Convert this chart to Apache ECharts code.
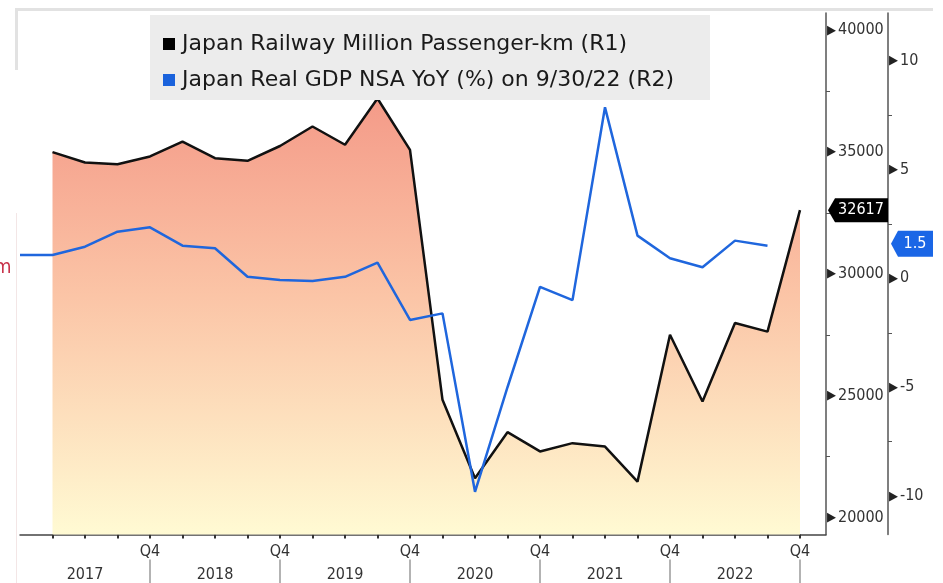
<!DOCTYPE html>
<html><head><meta charset="utf-8">
<script src="https://cdn.jsdelivr.net/npm/echarts@6/dist/echarts.min.js"></script>
<style>html,body{margin:0;padding:0;background:#fff;}#c{width:943px;height:583px;}</style>
</head><body><div id="c"></div>
<script>
// ---- data ----
const quarters = ['2016Q4','2017Q1','2017Q2','2017Q3','2017Q4','2018Q1','2018Q2','2018Q3','2018Q4',
  '2019Q1','2019Q2','2019Q3','2019Q4','2020Q1','2020Q2','2020Q3','2020Q4','2021Q1','2021Q2','2021Q3','2021Q4',
  '2022Q1','2022Q2','2022Q3','2022Q4'];
const railway = [null,35000,34570,34500,34820,35430,34750,34640,35250,36050,35300,37200,35090,
  24830,21610,23500,22710,23050,22910,21470,27500,24760,27980,27630,32617];
const gdp = [1.07,1.07,1.45,2.14,2.34,1.50,1.38,0.07,-0.08,-0.12,0.07,0.72,-1.91,
  -1.61,-9.80,-5.0,-0.39,-1.0,7.85,1.96,0.92,0.51,1.73,1.5,null];
const seriesNames = ['Japan Railway Million Passenger-km (R1)','Japan Real GDP NSA YoY (%) on 9/30/22 (R2)'];
const q4Index = [4,8,12,16,20,24];
const yearIndex = [2,6,10,14,18,22];
const yearLabels = ['2017','2018','2019','2020','2021','2022'];
const r1Labels = [20000,25000,30000,35000,40000];
const r1Minor = [22500,27500,32500,37500];
const r2Labels = [-10,-5,0,5,10];
const r2Minor = [-7.5,-2.5,2.5,7.5];
const lastRail = 32617;
const lastGdp = 1.5;
const peakIndex = 11;

const FONT = "'DejaVu Sans Condensed','DejaVu Sans',sans-serif";
const LFONT = "'DejaVu Sans',sans-serif";
const tickIdx = quarters.map((q,i)=>i).slice(1);
const xMax = quarters.length - 1 + 0.8;

const chart = echarts.init(document.getElementById('c'), null, {renderer:'canvas'});
const yLabel = (v)=>'{t|\u25B6}{v|'+v+'}';
const yRich = {t:{fontSize:13,color:'#222',padding:[0,2,0,0],fontFamily:FONT},v:{fontSize:16,color:'#333',fontFamily:FONT}};

chart.setOption({
  animation:false,
  backgroundColor:'#fff',
  textStyle:{fontFamily:FONT},
  grid:{left:20,right:117,top:13,bottom:48.5,containLabel:false},
  legend:{
    orient:'vertical', left:150, top:15,
    backgroundColor:'#ececec', padding:[18,36,9,13], itemGap:14,
    itemWidth:12, itemHeight:12, icon:'rect', itemStyle:{borderWidth:0},
    textStyle:{fontSize:22,color:'#1a1a1a',fontFamily:LFONT,padding:[0,0,0,2]},
    data:seriesNames, z:6
  },
  xAxis:[
    {type:'value',min:0,max:xMax,position:'bottom',
     axisLine:{show:true,onZero:false,lineStyle:{color:'#444',width:1.5}},
     axisTick:{show:true,customValues:tickIdx,length:4,lineStyle:{color:'#333',width:2}},
     axisLabel:{customValues:q4Index,formatter:()=>'Q4',margin:9,fontSize:16,color:'#333',fontFamily:FONT},
     splitLine:{show:false}},
    {type:'value',min:0,max:xMax,position:'bottom',offset:25,
     axisLine:{show:false,onZero:false},
     axisTick:{show:true,customValues:q4Index,length:25,lineStyle:{color:'#9a9a9a',width:1.5}},
     axisLabel:{customValues:yearIndex,formatter:(v)=>yearLabels[yearIndex.indexOf(v)],margin:7,fontSize:16,color:'#333',fontFamily:FONT},
     splitLine:{show:false}}
  ],
  yAxis:[
    {type:'value',position:'right',offset:0,min:19300,max:40710,
     axisLine:{show:true,onZero:false,lineStyle:{color:'#555',width:1.5}},
     axisTick:{show:true,customValues:r1Minor,length:4,lineStyle:{color:'#555',width:1}},
     axisLabel:{customValues:r1Labels,formatter:yLabel,rich:yRich,margin:1},
     splitLine:{show:false}},
    {type:'value',position:'right',offset:62,min:-11.76,max:12.18,
     axisLine:{show:true,onZero:false,lineStyle:{color:'#555',width:1.5}},
     axisTick:{show:true,customValues:r2Minor,length:4,lineStyle:{color:'#555',width:1}},
     axisLabel:{customValues:r2Labels,formatter:yLabel,rich:yRich,margin:1},
     splitLine:{show:false}}
  ],
  series:[
    {name:seriesNames[0],type:'line',xAxisIndex:0,yAxisIndex:0,
     data:railway.map((v,i)=>[i,v]),showSymbol:false,connectNulls:false,
     itemStyle:{color:'#000'},
     lineStyle:{color:'#111',width:2.5},
     areaStyle:{origin:'start',opacity:1,color:new echarts.graphic.LinearGradient(0,97,0,534,[
        {offset:0,color:'#f49a88'},{offset:0.45,color:'#fbc4a6'},{offset:1,color:'#fffad3'}],true)},
     z:2,
     markPoint:{silent:true,data:[
       {coord:[peakIndex,railway[peakIndex]],symbol:'triangle',symbolSize:[9,6],symbolOffset:[0,-4],
        itemStyle:{color:'#9a9a9a'},label:{show:false}},
       {coord:[xMax,lastRail],symbol:'path://M0,12 L7,0 L60,0 L60,24 L7,24 Z',symbolSize:[60,24],symbolOffset:[32,0],
        itemStyle:{color:'#000'},
        label:{show:true,position:'inside',formatter:String(lastRail),color:'#fff',fontSize:16,fontFamily:FONT,offset:[3,0]}}
     ]}},
    {name:seriesNames[1],type:'line',xAxisIndex:0,yAxisIndex:1,
     data:gdp.map((v,i)=>[i,v]),showSymbol:false,connectNulls:false,
     itemStyle:{color:'#1a62dc'},
     lineStyle:{color:'#1f66dd',width:2.5},
     z:3,
     markPoint:{silent:true,data:[
       {coord:[xMax,lastGdp],symbol:'path://M0,13 L7,0 L42,0 L42,26 L7,26 Z',symbolSize:[42,26],symbolOffset:[86,-2],
        itemStyle:{color:'#1a66e6'},
        label:{show:true,position:'inside',formatter:String(lastGdp),color:'#fff',fontSize:16,fontFamily:FONT,offset:[3,0]}}
     ]}}
  ],
  graphic:[
    {type:'rect',shape:{x:15,y:8,width:918,height:3},style:{fill:'#e2e2e2'},silent:true,z:1},
    {type:'rect',shape:{x:15,y:8,width:3,height:62},style:{fill:'#e2e2e2'},silent:true,z:1},
    {type:'rect',shape:{x:16,y:213,width:1,height:370},style:{fill:'#f3e6e6'},silent:true,z:1},
    {type:'text',style:{x:-6,y:268,text:'m',fill:'#c8324a',fontSize:20,fontFamily:FONT,verticalAlign:'middle'},silent:true,z:1}
  ]
});
</script></body></html>
